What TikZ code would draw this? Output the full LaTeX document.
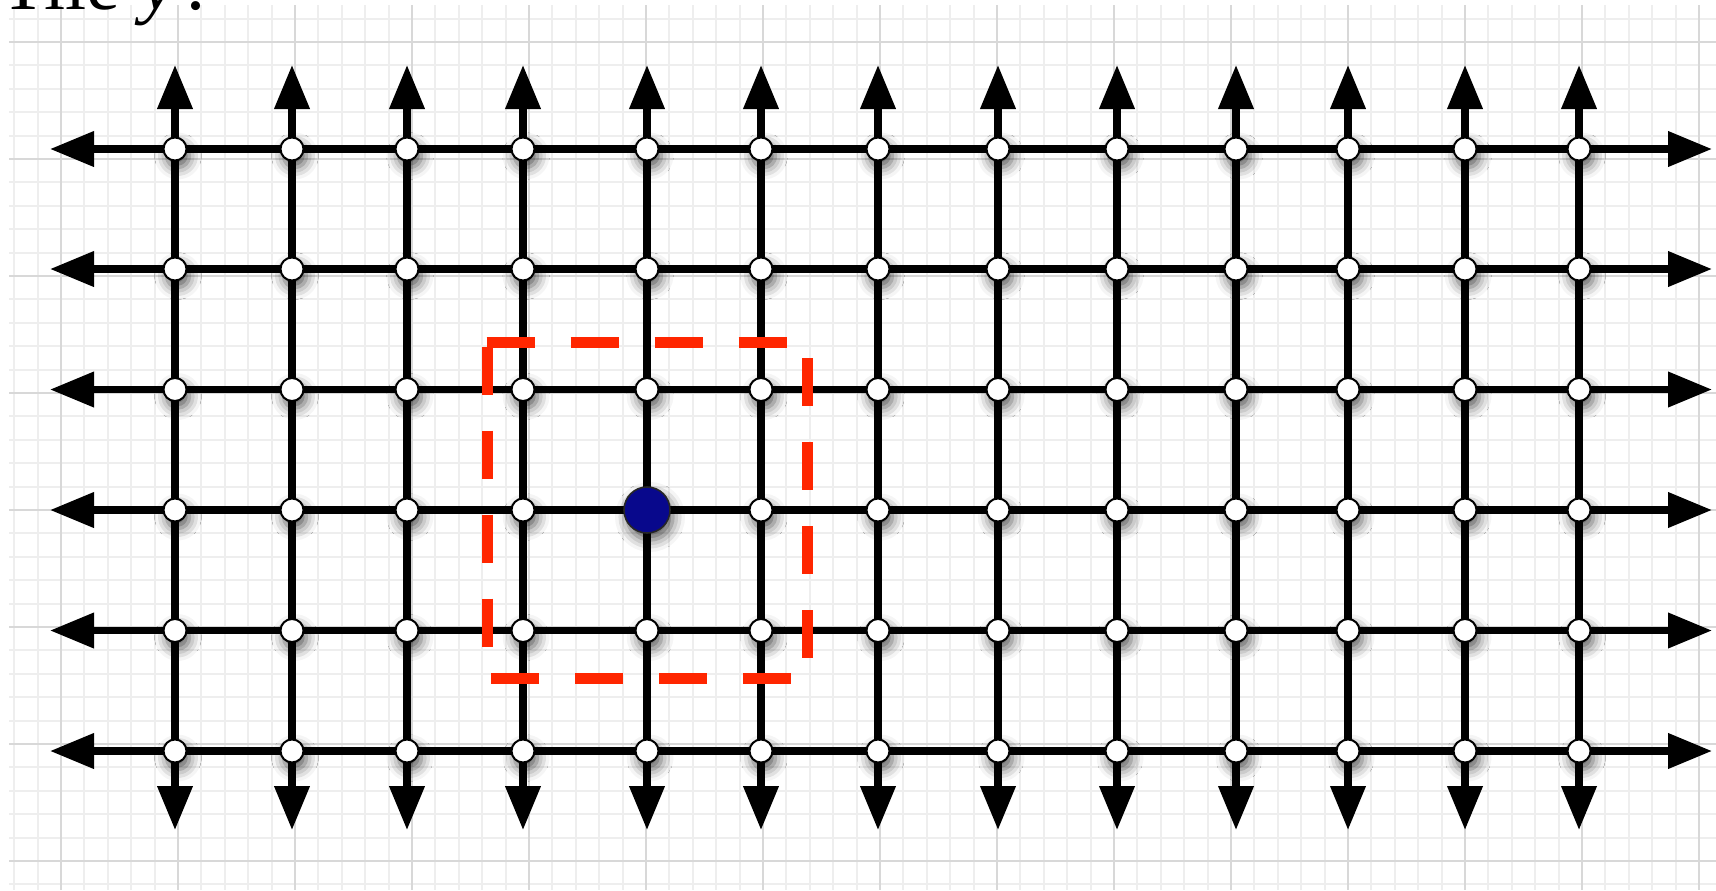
\documentclass[tikz,border=0pt]{standalone}
\usepackage{fontspec}
\setmainfont{Liberation Serif}
\usetikzlibrary{arrows.meta,shadows.blur}
\definecolor{navy}{RGB}{8,8,140}
\definecolor{boxred}{RGB}{255,38,0}
\definecolor{minorg}{RGB}{238,238,238}
\definecolor{majorg}{RGB}{216,216,216}
\tikzset{
 nodeshadow/.style={blur shadow={shadow xshift=1.5pt,shadow yshift=-3.5pt,shadow blur radius=6pt,shadow opacity=65}},
 vert/.style={circle,draw=black,line width=1pt,fill=white,minimum size=11.5pt,inner sep=0pt,nodeshadow},
 src/.style={circle,draw=black!85,line width=0.8pt,fill=navy,minimum size=23pt,inner sep=0pt,nodeshadow},
 link/.style={line width=3.6pt,black},
 outlink/.style={link,-{Triangle[length=22pt,width=17pt]}},
 boxside/.style={boxred,line width=5.5pt,dash pattern=on 24pt off 18pt},
 minorline/.style={minorg,line width=1pt},
 majorline/.style={majorg,line width=1pt},
 title/.style={anchor=base west,inner sep=0pt,font=\fontsize{38}{40}\selectfont}
}
\begin{document}
\begin{tikzpicture}[x=0.5pt,y=-0.5pt]
\useasboundingbox (0,0) rectangle (1716,890);
% background paper grid
\foreach \i in {0,...,72} \draw[minorline] ({14.2+23.4*\i},5) -- ({14.2+23.4*\i},890);
\foreach \j in {0,...,37} \draw[minorline] (9,{18.6+23.4*\j}) -- (1716,{18.6+23.4*\j});
\foreach \k in {0,...,14} \draw[majorline] ({61+117*\k},5) -- ({61+117*\k},890);
\foreach \k in {0,...,7} \draw[majorline] (9,{42+117*\k}) -- (1716,{42+117*\k});

\node[title] (ttl) at (0,9.5) {Tile\kern1pt\ \textit{y}\kern6pt.};

% positions of the lattice points and free arrow ends
\foreach \x [count=\c] in {175,292,407,523,647,761,878,998,1117,1236,1348,1465,1579} {
  \foreach \y [count=\r] in {149,269,389.5,510,630.5,751} {
    \coordinate (p-\c-\r) at (\x,\y);
  }
  \coordinate (T-\c) at (\x,65);
  \coordinate (B-\c) at (\x,830);
}
\foreach \y [count=\r] in {149,269,389.5,510,630.5,751} {
  \coordinate (L-\r) at (50,\y);
  \coordinate (R-\r) at (1712,\y);
}

% connectors
\foreach \r in {1,...,6} {
  \draw[outlink] (p-1-\r) -- (L-\r);
  \draw[outlink] (p-13-\r) -- (R-\r);
  \foreach \c in {1,...,12} {
    \pgfmathtruncatemacro\d{\c+1}
    \draw[link] (p-\c-\r) -- (p-\d-\r);
  }
}
\foreach \c in {1,...,13} {
  \draw[outlink] (p-\c-1) -- (T-\c);
  \draw[outlink] (p-\c-6) -- (B-\c);
  \foreach \r in {1,...,5} {
    \pgfmathtruncatemacro\s{\r+1}
    \draw[link] (p-\c-\r) -- (p-\c-\s);
  }
}

% lattice nodes
\foreach \c in {1,...,13} {
  \foreach \r in {1,...,6} {
    \ifnum\c=5 \ifnum\r=4 \def\st{src}\else\def\st{vert}\fi\else\def\st{vert}\fi
    \node[\st] (n-\c-\r) at (p-\c-\r) {};
  }
}

% red dashed neighbourhood box
\draw[boxside] (487.5,346.7) -- (487.5,646.7);
\draw[boxside] (486.7,342.3) -- (786.7,342.3);
\draw[boxside] (807.2,358.3) -- (807.2,658.3);
\draw[boxside] (491,678.3) -- (791,678.3);
\end{tikzpicture}
\end{document}
